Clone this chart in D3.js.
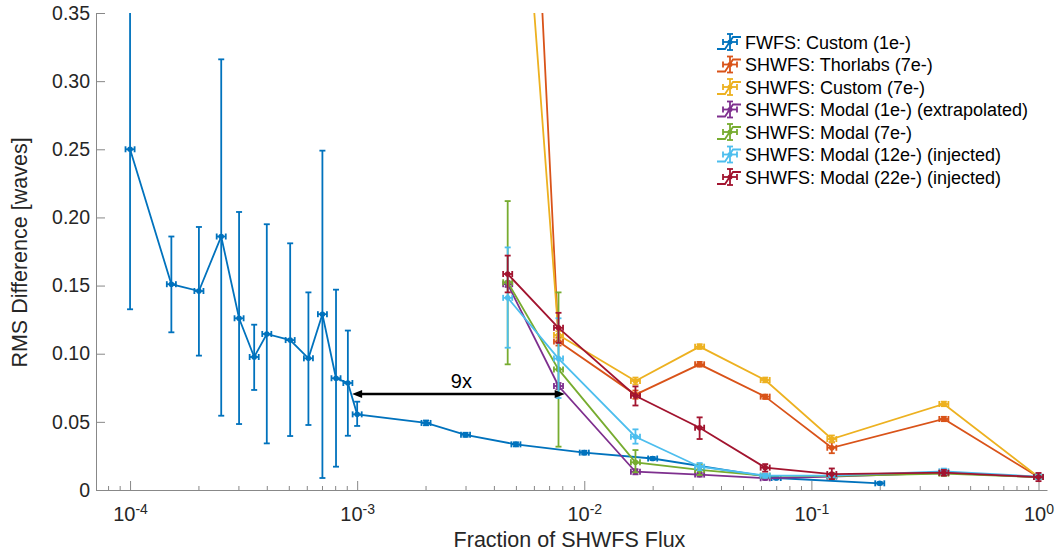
<!DOCTYPE html>
<html><head><meta charset="utf-8">
<script src="https://cdn.jsdelivr.net/npm/d3@7"></script>
<style>
body{margin:0;background:#fff}
text{font-family:"Liberation Sans",Arial,Helvetica,sans-serif;fill:#262626}
</style>
</head><body>
<svg id="chart" width="1055" height="552"></svg>
<script>
// ---------------- data ----------------
const seriesNames = [
  "FWFS: Custom (1e-)",
  "SHWFS: Thorlabs (7e-)",
  "SHWFS: Custom (7e-)",
  "SHWFS: Modal (1e-) (extrapolated)",
  "SHWFS: Modal (7e-)",
  "SHWFS: Modal (12e-) (injected)",
  "SHWFS: Modal (22e-) (injected)"
];
const seriesColors = ["#0072BD","#D95319","#EDB120","#7E2F8E","#77AC30","#4DBEEE","#A2142F"];

const fwfsX  = [1e-4,1.52e-4,2.01e-4,2.52e-4,3.02e-4,3.52e-4,4.0e-4,5.07e-4,6.1e-4,7.03e-4,8.07e-4,9.1e-4,1e-3,2.01e-3,3e-3,5e-3,1e-2,2e-2,7e-2,0.2];
const fwfsY  = [0.250,0.151,0.146,0.186,0.126,0.0976,0.1145,0.110,0.0966,0.129,0.082,0.0785,0.0555,0.0492,0.0405,0.0335,0.0274,0.0231,0.0088,0.0049];
const fwfsLo = [0.1326,0.1157,0.0986,0.0545,0.0484,0.0734,0.0342,0.0396,0.0477,0.0088,0.0171,0.0398,0.047,0.0475,0.039,0.032,0.026,0.022,0.0078,0.004];
const fwfsHi = [0.367,0.186,0.193,0.316,0.204,0.1213,0.195,0.181,0.145,0.249,0.147,0.117,0.0648,0.051,0.042,0.035,0.0288,0.0242,0.0098,0.0058];

const shX = [0.0046,0.0077,0.0168,0.0322,0.0626,0.123,0.383,1];

const thorlabsY  = [0.87,0.109,0.070,0.0922,0.0685,0.031,0.0521,0.0095];
const thorlabsLo = [0.87,0.106,0.067,0.0905,0.0668,0.027,0.0505,0.0085];
const thorlabsHi = [0.87,0.112,0.073,0.094,0.070,0.035,0.0537,0.0105];

const customY  = [0.61,0.1137,0.080,0.1052,0.0807,0.0374,0.0631,0.0095];
const customLo = [0.61,0.111,0.0775,0.1035,0.079,0.035,0.0615,0.0085];
const customHi = [0.61,0.1165,0.0825,0.107,0.0825,0.040,0.0648,0.0105];

const modal1Y  = [0.151,0.0763,0.0134,0.0113,0.0086,0.0098,0.0125,0.0095];
const modal1Lo = [0.149,0.074,0.0115,0.0098,0.0075,0.0085,0.0112,0.0085];
const modal1Hi = [0.153,0.0785,0.0153,0.0128,0.0097,0.011,0.0138,0.0105];

const modal7Y  = [0.1524,0.0885,0.0203,0.0147,0.0105,0.0102,0.012,0.0095];
const modal7Lo = [0.0922,0.0318,0.013,0.011,0.0092,0.008,0.0105,0.008];
const modal7Hi = [0.212,0.145,0.0293,0.019,0.0118,0.0125,0.0135,0.011];

const modal12Y  = [0.141,0.0964,0.0391,0.0171,0.0105,0.0105,0.0137,0.0098];
const modal12Lo = [0.1044,0.0675,0.034,0.0145,0.009,0.009,0.0118,0.008];
const modal12Hi = [0.178,0.126,0.0445,0.0198,0.012,0.012,0.0157,0.0115];

const modal22Y  = [0.1585,0.119,0.0692,0.0457,0.0164,0.0117,0.0127,0.0095];
const modal22Lo = [0.145,0.108,0.062,0.0374,0.0135,0.008,0.0105,0.0065];
const modal22Hi = [0.172,0.130,0.076,0.0533,0.019,0.0158,0.0148,0.0125];

const xErrDecades = 0.02;   // horizontal error half-width (log10 units)

const yTicks = [0,0.05,0.10,0.15,0.20,0.25,0.30,0.35];
const yTickLabels = ["0","0.05","0.10","0.15","0.20","0.25","0.30","0.35"];
const xTicks = [1e-4,1e-3,1e-2,1e-1,1];
const xTickExps = ["-4","-3","-2","-1","0"];

const arrowFrom = [9.5e-4, 0.0704];
const arrowTo = [8.2e-3, 0.0704];
const arrowLabel = "9x";

// ---------------- layout ----------------
const L = 96, R = 1047, T = 13, B = 490;
const svg = d3.select("#chart");
const x = d3.scaleLog().domain([7.08e-5, 1.09]).range([L, R]);
const y = d3.scaleLinear().domain([0, 0.35]).range([B, T]);

svg.append("defs").append("clipPath").attr("id","clip")
  .append("rect").attr("x",L).attr("y",T).attr("width",R-L).attr("height",B-T);

const axisColor = "#888";

// y axis
const gy = svg.append("g").attr("transform",`translate(${L},0)`)
  .call(d3.axisLeft(y).tickValues(yTicks).tickSizeInner(-9).tickSizeOuter(0).tickPadding(6)
    .tickFormat((d,i)=>yTickLabels[i]));
gy.select(".domain").attr("stroke",axisColor).attr("stroke-width",1);
gy.selectAll(".tick line").attr("stroke",axisColor);
gy.selectAll(".tick text").attr("font-size",19.5).attr("fill","#262626").style("font-family","'Liberation Sans',Arial,sans-serif");

// x minor ticks
const minor = [];
for (let e=-5;e<=0;e++) for (let m=2;m<=9;m++){ const v=m*Math.pow(10,e); if(v>=x.domain()[0]&&v<=x.domain()[1]) minor.push(v); }
const gxm = svg.append("g").attr("transform",`translate(0,${B})`)
  .call(d3.axisBottom(x).tickValues(minor).tickSizeInner(-4).tickSizeOuter(0).tickFormat(""));
gxm.select(".domain").remove();
gxm.selectAll(".tick line").attr("stroke",axisColor);

// x axis major
const gx = svg.append("g").attr("transform",`translate(0,${B})`)
  .call(d3.axisBottom(x).tickValues(xTicks).tickSizeInner(-9).tickSizeOuter(0).tickPadding(17).tickFormat(""));
gx.select(".domain").attr("stroke",axisColor);
gx.selectAll(".tick line").attr("stroke",axisColor);
gx.selectAll(".tick text").each(function(d,i){
  const t = d3.select(this).attr("font-size",20).attr("dy","0.71em").style("font-family","'Liberation Sans',Arial,sans-serif");
  t.append("tspan").text("10");
  t.append("tspan").attr("font-size",14).attr("dy","-0.55em").text(xTickExps[i]);
});

// axis labels
svg.append("text").attr("x",(L+R)/2-2).attr("y",547).attr("text-anchor","middle")
  .attr("font-size",21.5).text("Fraction of SHWFS Flux");
svg.append("text").attr("transform",`translate(27,${(T+B)/2+1}) rotate(-90)`).attr("text-anchor","middle")
  .attr("font-size",21.5).text("RMS Difference [waves]");

// ---------------- series ----------------
const series = [
  {xs:fwfsX, ys:fwfsY, lo:fwfsLo, hi:fwfsHi},
  {xs:shX, ys:thorlabsY, lo:thorlabsLo, hi:thorlabsHi},
  {xs:shX, ys:customY, lo:customLo, hi:customHi},
  {xs:shX, ys:modal1Y, lo:modal1Lo, hi:modal1Hi},
  {xs:shX, ys:modal7Y, lo:modal7Lo, hi:modal7Hi},
  {xs:shX, ys:modal12Y, lo:modal12Lo, hi:modal12Hi},
  {xs:shX, ys:modal22Y, lo:modal22Lo, hi:modal22Hi}
];
const plot = svg.append("g").attr("clip-path","url(#clip)");
const line = d3.line().x(d=>x(d[0])).y(d=>y(d[1]));
const cap = 3;
series.forEach((s,si)=>{
  const col = seriesColors[si];
  const g = plot.append("g").attr("stroke",col).attr("fill","none").attr("stroke-width",1.8);
  const pts = s.xs.map((xv,i)=>[xv,s.ys[i]]);
  g.append("path").attr("d",line(pts));
  pts.forEach((p,i)=>{
    const px = x(p[0]), py = y(p[1]);
    const yl = y(s.lo[i]), yh = y(s.hi[i]);
    const xl = x(p[0]*Math.pow(10,-xErrDecades)), xh = x(p[0]*Math.pow(10,xErrDecades));
    // vertical
    g.append("line").attr("x1",px).attr("x2",px).attr("y1",yl).attr("y2",yh);
    g.append("line").attr("x1",px-cap).attr("x2",px+cap).attr("y1",yl).attr("y2",yl);
    g.append("line").attr("x1",px-cap).attr("x2",px+cap).attr("y1",yh).attr("y2",yh);
    // horizontal
    g.append("line").attr("x1",xl).attr("x2",xh).attr("y1",py).attr("y2",py);
    g.append("line").attr("x1",xl).attr("x2",xl).attr("y1",py-cap).attr("y2",py+cap);
    g.append("line").attr("x1",xh).attr("x2",xh).attr("y1",py-cap).attr("y2",py+cap);
    g.append("circle").attr("cx",px).attr("cy",py).attr("r",2.8).attr("fill",col).attr("stroke","none");
  });
});

// ---------------- arrow annotation ----------------
const ax1 = x(arrowFrom[0]), ax2 = x(arrowTo[0]), ay = y(arrowFrom[1]);
const ag = svg.append("g");
ag.append("line").attr("x1",ax1+6).attr("x2",ax2-6).attr("y1",ay).attr("y2",ay)
  .attr("stroke","#000").attr("stroke-width",2.4);
ag.append("path").attr("d",`M${ax1},${ay} L${ax1+10},${ay-4} L${ax1+10},${ay+4} Z`).attr("fill","#000");
ag.append("path").attr("d",`M${ax2},${ay} L${ax2-10},${ay-4} L${ax2-10},${ay+4} Z`).attr("fill","#000");
svg.append("text").attr("x",(ax1+ax2)/2+3).attr("y",ay-6).attr("text-anchor","middle")
  .attr("font-size",20).style("fill","#000").text(arrowLabel);

// ---------------- legend ----------------
const lg = svg.append("g");
const lx = 717, ly0 = 42, ldy = 22.5;
seriesNames.forEach((name,i)=>{
  const cy = ly0 + i*ldy;
  const col = seriesColors[i];
  const g = lg.append("g").attr("stroke",col).attr("stroke-width",1.8).attr("fill","none");
  g.append("path").attr("d",`M${lx},${cy+7} L${lx+8},${cy+7} L${lx+16},${cy-5} L${lx+24},${cy-5}`);
  const cx = lx+13;
  g.append("line").attr("x1",cx).attr("x2",cx).attr("y1",cy-8).attr("y2",cy+8);
  g.append("line").attr("x1",cx-3).attr("x2",cx+3).attr("y1",cy-8).attr("y2",cy-8);
  g.append("line").attr("x1",cx-3).attr("x2",cx+3).attr("y1",cy+8).attr("y2",cy+8);
  g.append("line").attr("x1",cx-7).attr("x2",cx+7).attr("y1",cy).attr("y2",cy);
  g.append("line").attr("x1",cx-7).attr("x2",cx-7).attr("y1",cy-3).attr("y2",cy+3);
  g.append("line").attr("x1",cx+7).attr("x2",cx+7).attr("y1",cy-3).attr("y2",cy+3);
  g.append("circle").attr("cx",cx).attr("cy",cy).attr("r",2.5).attr("fill",col).attr("stroke","none");
  lg.append("text").attr("x",745).attr("y",cy+6.5).attr("font-size",18).style("fill","#000").text(name);
});
</script>
</body></html>
